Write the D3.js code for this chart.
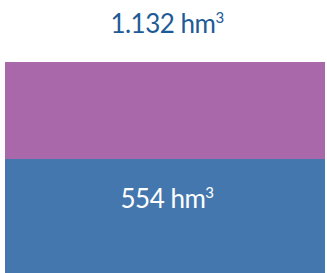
<!DOCTYPE html>
<html>
<head>
<meta charset="utf-8">
<script src="https://cdn.jsdelivr.net/npm/d3@7"></script>
<style>
  body { margin: 0; background: #fff; }
  text { font-family: Lato, "Open Sans", sans-serif; }
</style>
</head>
<body>
<svg id="chart"></svg>
<script>
const segments = ["base", "rest"];
const values = [554, 578];
const colors = ["#4477ad", "#a868a9"];
const total = 1132;
const totalLabel = "1.132 hm";
const innerLabel = "554 hm";
const unitSup = "3";

const width = 327;
const height = 273;

const svg = d3.select("#chart")
    .attr("width", width)
    .attr("height", height);

const x = d3.scaleBand()
    .domain(["bar"])
    .range([5, 325])
    .padding(0);

const y = d3.scaleLinear()
    .domain([0, total])
    .range([252, 62]);

// stacked segments
let acc = 0;
const stacked = values.map((v, i) => {
    const d = { key: segments[i], y0: acc, y1: acc + v, color: colors[i] };
    acc += v;
    return d;
});

svg.selectAll("rect")
    .data(stacked)
    .enter()
    .append("rect")
    .attr("x", x("bar"))
    .attr("width", x.bandwidth())
    .attr("y", d => y(d.y1))
    // the bottom segment runs off the bottom of the picture
    .attr("height", d => (d.y0 === 0 ? height : y(d.y0)) - y(d.y1))
    .attr("fill", d => d.color);

const cx = x("bar") + x.bandwidth() / 2 + 2;

const addLabel = (txt, yPos, color) => {
    const t = svg.append("text")
        .attr("x", cx)
        .attr("y", yPos)
        .attr("text-anchor", "middle")
        .attr("fill", color)
        .attr("font-size", 26)
        .style("letter-spacing", "-0.5px")
        .text(txt);
    t.append("tspan")
        .attr("font-size", 15)
        .attr("dy", -10)
        .text(unitSup);
};

// total above the bar
addLabel(totalLabel, 33, "#1d5b97");
// label in the bottom segment
addLabel(innerLabel, 208, "#fff");
</script>
</body>
</html>
